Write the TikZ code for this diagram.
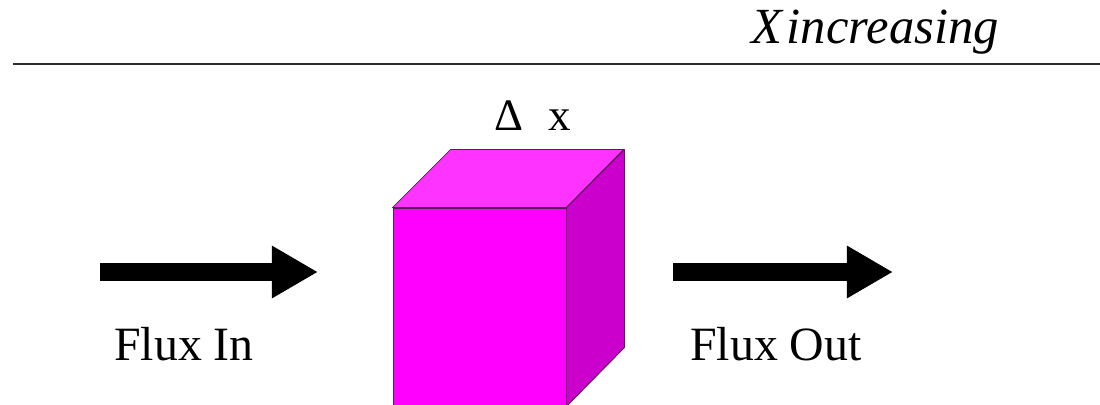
\documentclass[tikz,border=0pt]{standalone}
\usepackage{fontspec}
\setmainfont{Liberation Serif}
\usepackage{xcolor}
\usetikzlibrary{arrows.meta, positioning, calc}

\definecolor{cubefront}{HTML}{FF00FF}
\definecolor{cubetop}{HTML}{FF33FF}
\definecolor{cubeside}{HTML}{CC00CC}
\definecolor{cubeedge}{HTML}{5A1A5A}

\begin{document}
\begin{tikzpicture}[
    x=0.025cm, y=-0.025cm,
    every node/.style={font=\fontsize{34}{40}\selectfont},
    label/.style={anchor=base, inner sep=0pt},
    face/.style={draw=cubeedge, line width=0.6pt, line join=round},
    flux/.style={line width=0.45cm, -{Triangle[length=1.15cm, width=1.23cm]}}
]
\useasboundingbox (0,0) rectangle (1100,404);
\clip (0,0) rectangle (1100,404);

% axis line
\coordinate (axisL) at (13,64);
\coordinate (axisR) at (1100,64);
\draw[line width=0.05cm, gray!35!black] (axisL) -- (axisR);
\node[label, font=\fontsize{36}{40}\selectfont\itshape] (dir) at (875,43) {X\hspace{0.12cm}increasing};

% control volume
\node[face, fill=cubefront, minimum width=4.325cm, minimum height=4.95cm, inner sep=0pt] (cube) at (479.5,307) {};
\draw[face, fill=cubetop] (cube.north west) -- ++(58,-58) -- ++(173,0) -- (cube.north east) -- cycle;
\draw[face, fill=cubeside] (cube.north east) -- ++(58,-58) -- ++(0,198) -- (cube.south east) -- cycle;
\node[label, font=\fontsize{32}{36}\selectfont] (dx) at (533,130) {Δ\hspace{0.62cm}x};

% fluxes
\coordinate (inA) at (100,272);
\coordinate (inB) at (318,272);
\coordinate (outA) at (673,272);
\coordinate (outB) at (893,272);
\draw[flux] (inA) -- (inB);
\draw[flux] (outA) -- (outB);
\node[label] (fin) at (184,360) {Flux In};
\node[label] (fout) at (776,360) {Flux Out};
\end{tikzpicture}
\end{document}
